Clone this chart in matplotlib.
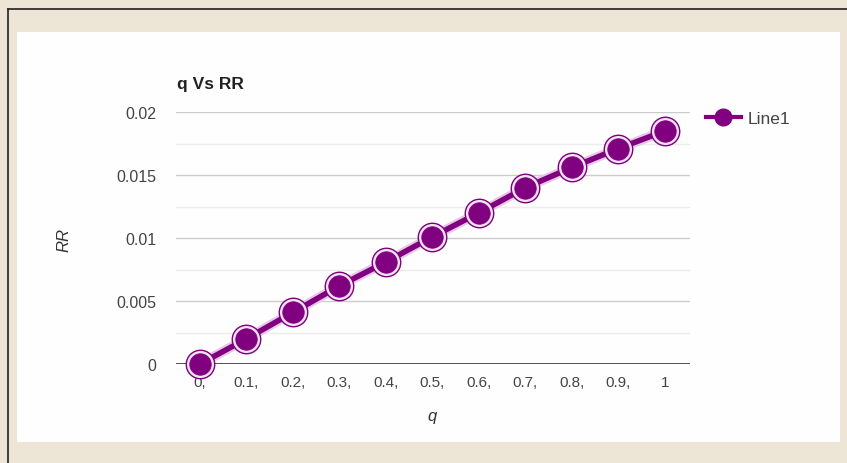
import matplotlib
matplotlib.use("Agg")
import matplotlib.pyplot as plt
from matplotlib.patches import Rectangle
from matplotlib.lines import Line2D

q_values = [0.0, 0.1, 0.2, 0.3, 0.4, 0.5, 0.6, 0.7, 0.8, 0.9, 1.0]
rr_values = [0.0, 0.0020, 0.0041, 0.0062, 0.0081, 0.0101, 0.0120, 0.0140, 0.0156, 0.0171, 0.0185]
x_tick_labels = ["0,", "0.1,", "0.2,", "0.3,", "0.4,", "0.5,", "0.6,", "0.7,", "0.8,", "0.9,", "1"]
y_ticks = [0, 0.005, 0.01, 0.015, 0.02]
y_tick_labels = ["0", "0.005", "0.01", "0.015", "0.02"]
minor_y = [0.0025, 0.0075, 0.0125, 0.0175]

plt.rcParams['font.family'] = ['Liberation Sans', 'DejaVu Sans']

W, H = 847, 464
fig = plt.figure(figsize=(W / 100, H / 100), dpi=100)
fig.patch.set_facecolor('#ede6d6')

# white panel
fig.add_artist(Rectangle((17 / W, 1 - 443 / H), (840 - 17) / W, (443 - 33) / H,
                         transform=fig.transFigure, facecolor='#fefefe', edgecolor='none', zorder=0))
# dark frame lines (top and left)
fig.add_artist(Line2D([8 / W, 1], [1 - 10 / H, 1 - 10 / H], transform=fig.transFigure,
                      color='#222222', lw=1.2))
fig.add_artist(Line2D([8 / W, 8 / W], [0, 1 - 10 / H], transform=fig.transFigure,
                      color='#222222', lw=1.2))

left, right, top, bottom = 176, 690, 113, 365
ax = fig.add_axes([left / W, 1 - bottom / H, (right - left) / W, (bottom - top) / H])
ax.set_facecolor('none')
ax.set_xlim(-0.0515, 1.054)
ax.set_ylim(0, 0.02)

for s in ax.spines.values():
    s.set_visible(False)

for v in y_ticks[1:]:
    ax.axhline(v, color='#cccccc', lw=1.0, zorder=1)
for v in minor_y:
    ax.axhline(v, color='#ececec', lw=1.0, zorder=1)
ax.axhline(0, color='#333333', lw=1.2, zorder=2)

purple = '#800080'
ax.plot(q_values, rr_values, color='#e6c8e6', lw=7, solid_capstyle='round', zorder=3, clip_on=False)
ax.plot(q_values, rr_values, color=purple, lw=4, solid_capstyle='round', zorder=4, clip_on=False)
ax.plot(q_values, rr_values, linestyle='none', marker='o', ms=20.5, mfc='#f3e3f3',
        mec=purple, mew=1.0, zorder=5, clip_on=False)
ax.plot(q_values, rr_values, linestyle='none', marker='o', ms=15.5, mfc=purple,
        mec=purple, mew=0.5, zorder=6, clip_on=False)

ax.set_xticks(q_values)
ax.set_xticklabels(x_tick_labels, fontsize=11, color='#444444')
ax.set_yticks(y_ticks)
ax.set_yticklabels(y_tick_labels, fontsize=11.5, color='#444444')
ax.tick_params(axis='both', length=0)
ax.tick_params(axis='y', pad=14)
ax.tick_params(axis='x', pad=8)

fig.text(432 / W, 1 - 417 / H, 'q', fontsize=12, style='italic', color='#333333',
         ha='center', va='center')
fig.text(64 / W, 1 - 240 / H, 'RR', fontsize=12, style='italic', color='#333333',
         ha='center', va='center', rotation=90)
fig.text(177 / W, 1 - 84 / H, 'q Vs RR', fontsize=12.5, fontweight='bold', color='#222222',
         ha='left', va='center')

handle = Line2D([], [], color=purple, lw=3, marker='o', ms=12, mfc=purple, mec=purple)
leg = fig.legend([handle], ['Line1'], loc='center left',
                 bbox_to_anchor=(706 / W, 1 - 119 / H), frameon=False,
                 fontsize=12.5, handlelength=2.0, handletextpad=0.4, borderpad=0, borderaxespad=0)
for t in leg.get_texts():
    t.set_color('#444444')

fig.savefig('out.png', dpi=100, facecolor=fig.get_facecolor())
